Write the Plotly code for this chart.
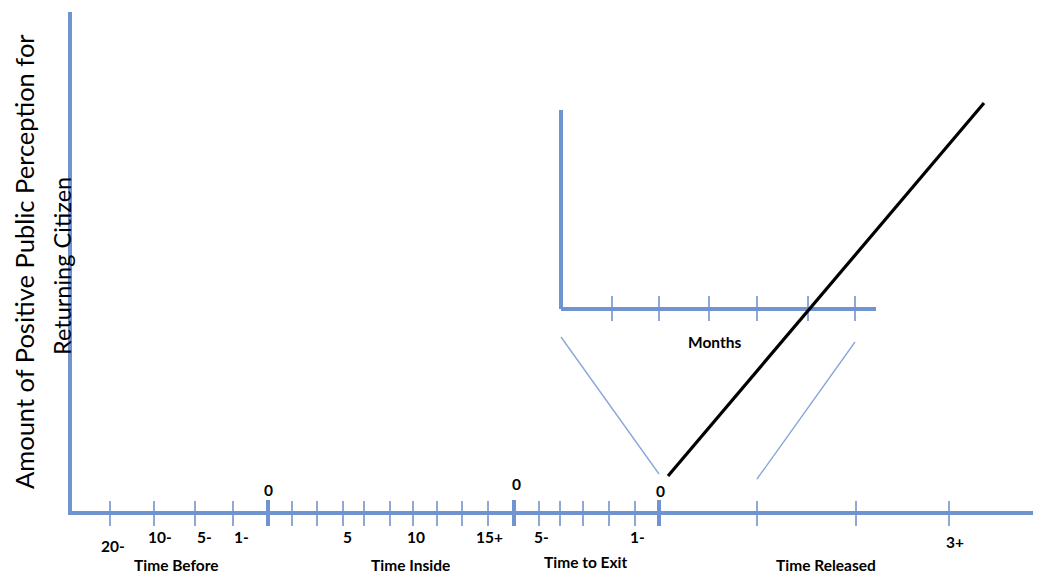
import plotly.graph_objects as go

# ---- data (diagram coordinates, page-pixel units) ----
main_axis_x = [68, 1041]
main_axis_y = 513
y_axis_x = 70
y_axis_top = 12

minor_ticks_x = [110, 154, 195, 233, 292, 317, 343, 364, 390, 413, 437, 462, 488,
                 539, 560, 583, 609, 635, 757, 856, 949]
zero_ticks_x = [268, 514, 659]

below_labels = ["20-", "10-", "5-", "1-", "5", "10", "15+", "5-", "1-", "3+"]
below_x = [113, 160, 204, 241, 347, 416, 489, 541, 637, 955]
below_y = [546, 537, 537, 537, 537, 537, 537, 537, 537, 542]

zero_labels = ["0", "0", "0"]
zero_x = [268, 516, 660]
zero_y = [490, 484, 491]

group_labels = ["Time Before", "Time Inside", "Time to Exit", "Time Released"]
group_x = [176, 410, 586, 826]
group_y = [565, 565, 562, 565]

inset_vert_x = 561
inset_vert_y = [110, 309]
inset_horiz_x = [561, 876]
inset_horiz_y = 309
inset_ticks_x = [612, 659, 709, 757, 808, 855]

zoom_left_x = [561, 659]
zoom_left_y = [337, 474]
zoom_right_x = [855, 757]
zoom_right_y = [342, 479]

trend_x = [668, 984]
trend_y = [476, 103]

BLUE = "#7094D0"
LBLUE = "#86A5DA"

fig = go.Figure()

def seg_trace(xs, ys, color, width):
    fig.add_trace(go.Scatter(x=xs, y=ys, mode="lines",
                             line=dict(color=color, width=width),
                             hoverinfo="skip", showlegend=False))

# main axes
seg_trace([y_axis_x, y_axis_x], [y_axis_top, main_axis_y + 2], BLUE, 4)
seg_trace(main_axis_x, [main_axis_y, main_axis_y], BLUE, 4)

# minor ticks
tx, ty = [], []
for x in minor_ticks_x:
    tx += [x, x, None]
    ty += [501, 526, None]
seg_trace(tx, ty, BLUE, 1.6)

# zero ticks (thick)
tx, ty = [], []
for x in zero_ticks_x:
    tx += [x, x, None]
    ty += [500, 526, None]
seg_trace(tx, ty, BLUE, 4)

# inset axes
seg_trace([inset_vert_x, inset_vert_x], inset_vert_y, BLUE, 4)
seg_trace(inset_horiz_x, [inset_horiz_y, inset_horiz_y], BLUE, 4)
tx, ty = [], []
for x in inset_ticks_x:
    tx += [x, x, None]
    ty += [296, 321, None]
seg_trace(tx, ty, BLUE, 1.6)

# zoom guide lines
seg_trace(zoom_left_x, zoom_left_y, LBLUE, 1.3)
seg_trace(zoom_right_x, zoom_right_y, LBLUE, 1.3)

# trend line
seg_trace(trend_x, trend_y, "black", 3.2)

FONT = "Lato"
LSIZE = 15.5
for t, x, y in zip(below_labels, below_x, below_y):
    fig.add_annotation(x=x, y=y, text=f"<b>{t}</b>", showarrow=False,
                       font=dict(family=FONT, size=LSIZE, color="black"))
for t, x, y in zip(zero_labels, zero_x, zero_y):
    fig.add_annotation(x=x, y=y, text=f"<b>{t}</b>", showarrow=False,
                       font=dict(family=FONT, size=LSIZE, color="black"))
for t, x, y in zip(group_labels, group_x, group_y):
    fig.add_annotation(x=x, y=y, text=f"<b>{t}</b>", showarrow=False,
                       font=dict(family=FONT, size=LSIZE, color="black"))
fig.add_annotation(x=714, y=342, text="<b>Months</b>", showarrow=False,
                   font=dict(family=FONT, size=LSIZE, color="black"))

# y-axis title (two rotated lines)
fig.add_annotation(x=24, y=262, text="Amount of Positive Public Perception for",
                   textangle=-90, showarrow=False,
                   font=dict(family=FONT, size=25.5, color="black"))
fig.add_annotation(x=62, y=266, text="Returning Citizen",
                   textangle=-90, showarrow=False,
                   font=dict(family=FONT, size=23.5, color="black"))

# the page body has an 8px margin: shift ranges so diagram units equal page pixels
fig.update_xaxes(range=[8, 1041], visible=False, fixedrange=True)
fig.update_yaxes(range=[575, 8], visible=False, fixedrange=True)
fig.update_layout(width=1033, height=567, margin=dict(l=0, r=0, t=0, b=0),
                  plot_bgcolor="white", paper_bgcolor="white")

fig.write_html("out.html")
